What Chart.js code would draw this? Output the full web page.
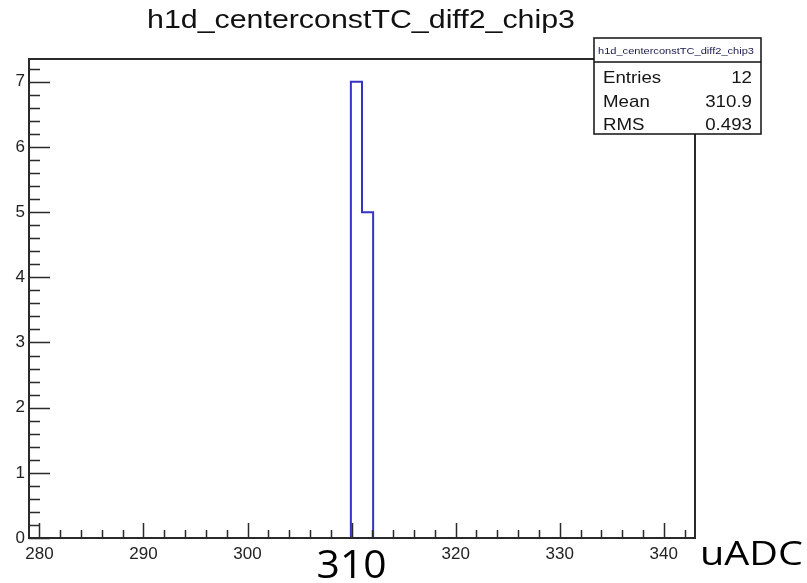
<!DOCTYPE html>
<html>
<head>
<meta charset="utf-8">
<script src="https://cdn.jsdelivr.net/npm/chart.js@4"></script>
<style>
  html, body { margin: 0; padding: 0; background: #fff; }
  #wrap { width: 807px; height: 583px; position: relative; }
</style>
</head>
<body>
<div id="wrap"><canvas id="hist"></canvas></div>
<script>
const histTitle = 'h1d_centerconstTC_diff2_chip3';
const xRange = [279, 343];
const yRange = [0, 7.35];
const xTickLabels = [280, 290, 300, 310, 320, 330, 340];
const yTickLabels = [0, 1, 2, 3, 4, 5, 6, 7];
const binEdges = [309.93, 311.0, 312.07];
const binCounts = [7, 5];
const statLabels = ['Entries', 'Mean', 'RMS'];
const statValues = ['12', '310.9', '0.493'];
const xAxisNote = 'uADC';
const xValueNote = '310';

// outline of the histogram, ROOT style
const outline = [{ x: binEdges[0], y: 0 }];
binCounts.forEach((c, i) => {
    outline.push({ x: binEdges[i], y: c }, { x: binEdges[i + 1], y: c });
});
outline.push({ x: binEdges[binEdges.length - 1], y: 0 });

function txt(ctx, str, x, y, font, align, fitW) {
    ctx.save();
    ctx.font = font;
    ctx.textBaseline = 'alphabetic';
    const w = ctx.measureText(str).width;
    const sx = fitW ? fitW / w : 1;
    ctx.translate(x, y);
    ctx.scale(sx, 1);
    ctx.textAlign = align;
    ctx.fillText(str, 0, 0);
    ctx.restore();
}

function width(ctx, str, font) {
    ctx.save();
    ctx.font = font;
    const w = ctx.measureText(str).width;
    ctx.restore();
    return w;
}

const rootFrame = {
    id: 'rootFrame',
    afterDatasetsDraw(chart) {
        const { ctx, chartArea: a, scales: { x, y } } = chart;
        ctx.save();
        ctx.strokeStyle = '#2a2a2a';
        ctx.lineWidth = 2;
        ctx.strokeRect(a.left, a.top, a.right - a.left, a.bottom - a.top);

        ctx.lineWidth = 1.5;
        ctx.beginPath();
        for (let v = 280; v <= xRange[1]; v += 2) {
            const px = Math.round(x.getPixelForValue(v)) + 0.5;
            const len = v % 10 === 0 ? 15 : 8;
            ctx.moveTo(px, a.bottom);
            ctx.lineTo(px, a.bottom - len);
        }
        for (let i = 0; i <= 36; i++) {
            const v = i * 0.2;
            const py = Math.round(y.getPixelForValue(v)) + 0.5;
            const len = i % 5 === 0 ? 21 : 11;
            ctx.moveTo(a.left, py);
            ctx.lineTo(a.left + len, py);
        }
        ctx.stroke();
        ctx.restore();
    },
    afterDraw(chart) {
        const { ctx, scales: { x } } = chart;
        const f17 = '17px "Liberation Sans"';
        ctx.save();
        ctx.fillStyle = '#111';
        txt(ctx, histTitle, 361, 28, '25px "Liberation Sans"', 'center', 428);

        // stats box
        ctx.fillStyle = '#fff';
        ctx.fillRect(594, 38, 167, 96);
        ctx.strokeStyle = '#111';
        ctx.lineWidth = 1.5;
        ctx.strokeRect(594, 38, 167, 96);
        ctx.beginPath();
        ctx.moveTo(594, 62);
        ctx.lineTo(761, 62);
        ctx.stroke();
        ctx.fillStyle = '#1a1a50';
        txt(ctx, histTitle, 676, 54, '9px "Liberation Sans"', 'center', 156);
        ctx.fillStyle = '#151515';
        const base = [83, 107, 130];
        statLabels.forEach((s, i) => {
            txt(ctx, s, 603, base[i], f17, 'left', width(ctx, s, f17) * 1.1);
            txt(ctx, statValues[i], 752, base[i], f17, 'right', width(ctx, statValues[i], f17) * 1.1);
        });

        // slide annotations
        const cx = x.getPixelForValue(Number(xValueNote));
        ctx.fillStyle = '#fff';
        ctx.fillRect(cx - 38, 544, 76, 39);
        ctx.fillStyle = '#000';
        txt(ctx, xValueNote, cx, 578, '39px "Open Sans"', 'center', 70);
        txt(ctx, xAxisNote, 700, 565, '32px "Open Sans"', 'left', 103);
        ctx.restore();
    }
};

new Chart(document.getElementById('hist'), {
    type: 'line',
    data: {
        datasets: [{
            data: outline,
            borderColor: '#3434c4',
            borderWidth: 2,
            pointRadius: 0,
            fill: false,
            tension: 0,
            clip: false
        }]
    },
    options: {
        responsive: true,
        maintainAspectRatio: false,
        animation: false,
        layout: { padding: { top: 59, right: 112, left: 0, bottom: 0 } },
        plugins: { legend: { display: false }, tooltip: { enabled: false } },
        scales: {
            x: {
                type: 'linear',
                min: xRange[0],
                max: xRange[1],
                grid: { display: false },
                border: { display: false },
                afterBuildTicks: s => { s.ticks = xTickLabels.map(v => ({ value: v })); },
                afterFit: s => { s.height = 45; },
                ticks: {
                    padding: -2,
                    autoSkip: false,
                    maxRotation: 0,
                    color: '#222',
                    font: { family: 'Liberation Sans', size: 17 }
                }
            },
            y: {
                min: yRange[0],
                max: yRange[1],
                grid: { display: false },
                border: { display: false },
                afterBuildTicks: s => { s.ticks = yTickLabels.map(v => ({ value: v })); },
                afterFit: s => { s.width = 29; },
                ticks: {
                    padding: -4,
                    color: '#222',
                    font: { family: 'Liberation Sans', size: 17 }
                }
            }
        }
    },
    plugins: [rootFrame]
});
</script>
</body>
</html>
